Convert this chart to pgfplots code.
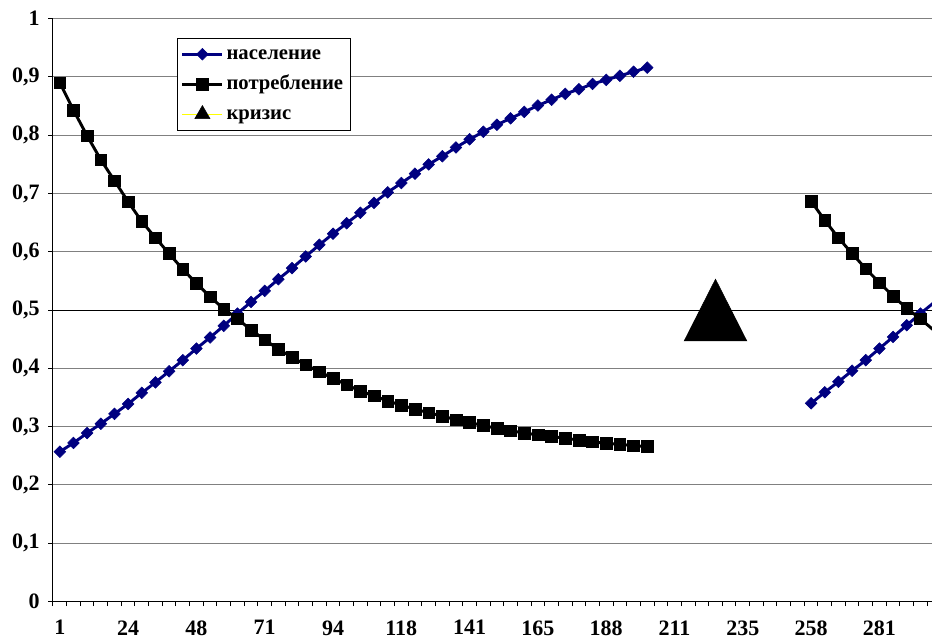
\documentclass[border=0pt]{standalone}
\usepackage{fontspec}
\setmainfont{Liberation Serif}[BoldFont={Liberation Serif Bold}]
\usepackage{pgfplots}
\usepackage{pgfplotstable}
\pgfplotsset{compat=1.18}
\definecolor{naselenie}{RGB}{0,0,128}
\definecolor{krizis}{RGB}{255,255,0}
\definecolor{setka}{RGB}{128,128,128}

% x = category index (0 -> "1", 5 -> "24", ...)
\pgfplotstableread{
x  y
0  0.257
1  0.272
2  0.289
3  0.305
4  0.322
5  0.339
6  0.358
7  0.376
8  0.395
9  0.414
10 0.434
11 0.453
12 0.473
13 0.494
14 0.514
15 0.533
16 0.553
17 0.572
18 0.592
19 0.612
20 0.631
21 0.649
22 0.667
23 0.684
24 0.702
25 0.718
26 0.734
27 0.750
28 0.764
29 0.779
30 0.793
31 0.806
32 0.818
33 0.829
34 0.840
35 0.851
36 0.861
37 0.871
38 0.879
39 0.888
40 0.895
41 0.902
42 0.909
43 0.916
}\naselenieA

\pgfplotstableread{
x  y
55 0.340
56 0.359
57 0.377
58 0.396
59 0.414
60 0.434
61 0.454
62 0.474
63 0.494
64 0.513
}\naselenieB

\pgfplotstableread{
x  y
0  0.890
1  0.843
2  0.799
3  0.758
4  0.722
5  0.686
6  0.652
7  0.624
8  0.597
9  0.570
10 0.546
11 0.523
12 0.502
13 0.485
14 0.466
15 0.449
16 0.433
17 0.419
18 0.406
19 0.394
20 0.383
21 0.372
22 0.361
23 0.353
24 0.344
25 0.337
26 0.330
27 0.324
28 0.318
29 0.312
30 0.307
31 0.302
32 0.297
33 0.293
34 0.289
35 0.286
36 0.283
37 0.280
38 0.277
39 0.274
40 0.271
41 0.270
42 0.267
43 0.266
}\potreblenieA

\pgfplotstableread{
x  y
55 0.687
56 0.654
57 0.624
58 0.597
59 0.571
60 0.547
61 0.524
62 0.503
63 0.485
64 0.465
}\potreblenieB

\begin{document}
\begin{tikzpicture}
\begin{axis}[
  scale only axis,
  width=659.25pt, height=437.1pt,
  xmin=-0.5, xmax=63.85, ymin=0, ymax=1,
  axis x line*=bottom, axis y line*=left,
  axis line style={-, black, line width=0.75pt},
  tick align=outside,
  xtick={0,5,...,60},
  xticklabels={1,24,48,71,94,118,141,165,188,211,235,258,281},
  major x tick style={draw=none},
  minor xtick={-0.5,0.5,...,63.5},
  minor tick length=3.5pt,
  major tick length=3.5pt,
  minor x tick style={black, line width=0.75pt},
  ytick={0,0.1,...,1},
  y tick style={black, line width=0.75pt},
  ymajorgrids,
  major grid style={setka, line width=0.75pt},
  extra y ticks={0.5},
  extra y tick labels={},
  extra y tick style={grid=major, major grid style={black, line width=0.75pt}, major tick length=0pt},
  /pgf/number format/assume math mode=true,
  ticklabel style={font=\fontsize{16.5}{18}\selectfont\bfseries},
  yticklabel style={/pgf/number format/fixed, /pgf/number format/precision=1,
    /pgf/number format/use comma, /pgf/number format/assume math mode=true},
  yticklabel style={xshift=-3pt},
  xticklabel style={yshift=-7.2pt},
  legend style={at={(0.1407,0.9664)}, anchor=north west, draw=black,
    fill=white, font=\fontsize{15.5}{17}\selectfont\bfseries,
    legend cell align=left, row sep=0pt, inner xsep=3pt, inner ysep=0.5pt,
    nodes={text height=11pt, text depth=3.5pt, inner ysep=4pt}},
  legend image code/.code={\draw[mark repeat=2,mark phase=2] plot coordinates {(0pt,0pt) (15pt,0pt) (30pt,0pt)};},
]
\addplot[naselenie, line width=2.2pt, mark=square*, mark size=3.1pt,
  mark options={rotate=45, solid, line width=0.4pt, fill=naselenie}] table {\naselenieA};
\addlegendentry{население}
\addplot[black, line width=2.2pt, mark=square*, mark size=4.4pt,
  mark options={solid, line width=0.4pt, fill=black}] table {\potreblenieA};
\addlegendentry{потребление}
\addplot[krizis, line width=0.75pt, mark=triangle*, mark size=30.9pt,
  mark options={black, fill=black, line width=0.4pt, xscale=0.878, yshift=-7.7pt},
  legend image code/.code={
    \draw[krizis, line width=0.75pt] (0pt,0pt) -- (30pt,0pt);
    \draw[krizis] plot[mark=triangle*, mark size=6.5pt,
      mark options={black, fill=black, line width=0.4pt}] coordinates {(15pt,0pt)};}]
  coordinates {(48,0.5)};
\addlegendentry{кризис}
\addplot[forget plot, naselenie, line width=2.2pt, mark=square*, mark size=3.1pt,
  mark options={rotate=45, solid, line width=0.4pt, fill=naselenie}] table {\naselenieB};
\addplot[forget plot, black, line width=2.2pt, mark=square*, mark size=4.4pt,
  mark options={solid, line width=0.4pt, fill=black}] table {\potreblenieB};
\end{axis}
\pgfresetboundingbox
\path (-39.75pt,-29.625pt) rectangle (659.25pt,451.125pt);
\end{tikzpicture}
\end{document}
